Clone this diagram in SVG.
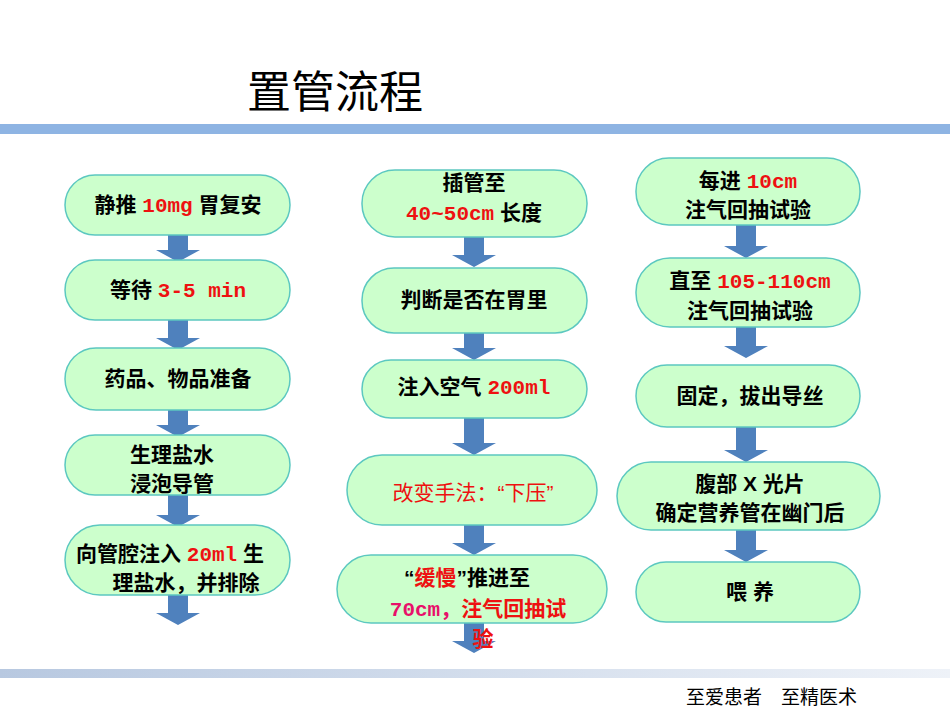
<svg xmlns="http://www.w3.org/2000/svg" width="950" height="713" viewBox="0 0 950 713">
<style>
.n{fill:#ccffcc;stroke:#5cc8c0;stroke-width:1.5}
.t{font-family:"Liberation Sans","Noto Sans CJK SC",sans-serif;font-size:21px;font-weight:bold;fill:#000;text-anchor:middle}
.m{font-family:"Liberation Mono","Noto Sans CJK SC",monospace;fill:#ee1111}
.r{fill:#ee1111}
.a{fill:#4f81bd}
</style>
<defs>
<linearGradient id="g" x1="0" x2="1"><stop offset="0" stop-color="#b7c8e0"/><stop offset="1" stop-color="#eef2f8"/></linearGradient>
</defs>
<rect width="950" height="713" fill="#fff"/>
<text x="247" y="108" font-family="Liberation Sans,'Noto Sans CJK SC',sans-serif" font-size="44">置管流程</text>
<rect x="0" y="124" width="950" height="10" fill="#8eb4e3"/>
<rect x="0" y="669" width="950" height="9" fill="url(#g)"/>
<text x="686" y="704" font-family="Liberation Sans,'Noto Sans CJK SC',sans-serif" font-size="19">至爱患者　至精医术</text>
<g id="connectors">
<path class="a" d="M168 235h20v15h12l-22 12l-22-12h12z"/>
<path class="a" d="M168 320h20v18h12l-22 12l-22-12h12z"/>
<path class="a" d="M168 410h20v15h12l-22 12l-22-12h12z"/>
<path class="a" d="M168 495h20v20h12l-22 12l-22-12h12z"/>
<path class="a" d="M168 595h20v18h12l-22 12l-22-12h12z"/>
<path class="a" d="M464 237h20v18h12l-22 12l-22-12h12z"/>
<path class="a" d="M464 333h20v15h12l-22 12l-22-12h12z"/>
<path class="a" d="M464 418h20v25h12l-22 12l-22-12h12z"/>
<path class="a" d="M464 525h20v18h12l-22 12l-22-12h12z"/>
<path class="a" d="M464 623h20v18h12l-22 12l-22-12h12z"/>
<path class="a" d="M736 225h20v21h12l-22 12l-22-12h12z"/>
<path class="a" d="M736 327h20v19h12l-22 12l-22-12h12z"/>
<path class="a" d="M736 427h20v23h12l-22 12l-22-12h12z"/>
<path class="a" d="M736 530h20v20h12l-22 12l-22-12h12z"/>
</g>
<g id="n1"><rect class="n" x="65" y="175" width="225" height="60" rx="30"/><text class="t" x="178" y="212">静推 <tspan class="m">10mg</tspan> 胃复安</text></g>
<g id="n2"><rect class="n" x="65" y="260" width="225" height="60" rx="30"/><text class="t" x="178" y="297">等待 <tspan class="m">3-5 min</tspan></text></g>
<g id="n3"><rect class="n" x="65" y="348" width="225" height="62" rx="31"/><text class="t" x="178" y="386">药品、物品准备</text></g>
<g id="n4"><rect class="n" x="65" y="435" width="225" height="60" rx="30"/><text class="t" x="172" y="462">生理盐水</text><text class="t" x="172" y="491">浸泡导管</text></g>
<g id="n5"><rect class="n" x="65" y="525" width="225" height="70" rx="35"/><text class="t" x="170" y="561">向管腔注入 <tspan class="m">20ml</tspan> 生</text><text class="t" x="186" y="590">理盐水，并排除</text></g>
<g id="n6"><rect class="n" x="362" y="170" width="225" height="67" rx="33"/><text class="t" x="474" y="190">插管至</text><text class="t" x="474" y="220"><tspan class="m">40~50cm</tspan> 长度</text></g>
<g id="n7"><rect class="n" x="362" y="268" width="225" height="65" rx="32"/><text class="t" x="474" y="307">判断是否在胃里</text></g>
<g id="n8"><rect class="n" x="362" y="360" width="225" height="58" rx="29"/><text class="t" x="474" y="394">注入空气 <tspan class="m">200ml</tspan></text></g>
<g id="n9"><rect class="n" x="347" y="455" width="250" height="70" rx="35"/><text class="t" x="473" y="500" font-weight="normal" fill="#ee1111" style="font-weight:normal;fill:#ee1111">改变手法：“下压”</text></g>
<g id="n10"><rect class="n" x="337" y="555" width="270" height="68" rx="34"/><text class="t" x="467" y="585">“<tspan class="r">缓慢</tspan>”推进至</text><text class="t" x="478" y="616"><tspan class="m" fill="#e8106a" style="fill:#e8106a">70cm，</tspan><tspan class="r">注气回抽试</tspan></text><text class="t r" x="483" y="646">验</text></g>
<g id="n11"><rect class="n" x="636" y="158" width="224" height="67" rx="33"/><text class="t" x="748" y="188">每进 <tspan class="m">10cm</tspan></text><text class="t" x="748" y="217">注气回抽试验</text></g>
<g id="n12"><rect class="n" x="636" y="258" width="224" height="69" rx="34"/><text class="t" x="750" y="288">直至 <tspan class="m">105-110cm</tspan></text><text class="t" x="750" y="318">注气回抽试验</text></g>
<g id="n13"><rect class="n" x="636" y="365" width="224" height="62" rx="31"/><text class="t" x="750" y="403">固定，拔出导丝</text></g>
<g id="n14"><rect class="n" x="617" y="462" width="263" height="68" rx="34"/><text class="t" x="750" y="491">腹部 X 光片</text><text class="t" x="750" y="520">确定营养管在幽门后</text></g>
<g id="n15"><rect class="n" x="636" y="562" width="224" height="60" rx="30"/><text class="t" x="750" y="599">喂 养</text></g>
</svg>
